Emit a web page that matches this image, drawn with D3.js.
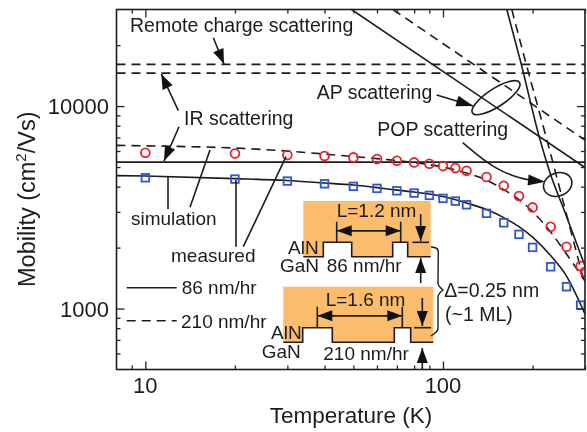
<!DOCTYPE html>
<html>
<head>
<meta charset="utf-8">
<script src="https://cdn.jsdelivr.net/npm/d3@7"></script>
<style>
  html, body { margin: 0; padding: 0; background: #fff; }
  svg { display: block; filter: blur(0.35px); }
  text { font-family: "Liberation Sans", Arial, sans-serif; fill: #1c1c1c; }
  .axis path { display: none; }
  .axis line { stroke: #222; stroke-width: 1.3; }
</style>
</head>
<body>
<svg width="587" height="432"></svg>
<script>
// measured points
const measuredT = [10, 20, 30, 40, 50, 60, 70, 80, 90, 100, 110, 120, 140, 160, 180, 200, 230, 260, 290]
const measured86 = [4425, 4360, 4262, 4133, 4013, 3923, 3816, 3719, 3622, 3501, 3395, 3255, 2953, 2653, 2325, 2005, 1608, 1282, 1040]
const measured210T = [10, 20, 30, 40, 50, 60, 70, 80, 90, 100, 110, 120, 140, 160, 180, 200, 230, 260, 290, 300]
const measured210 = [5881, 5828, 5728, 5664, 5580, 5473, 5369, 5272, 5189, 5054, 4940, 4791, 4461, 4040, 3594, 3160, 2535, 2019, 1621, 1519]

// simulation curves
const simT = [8, 10, 20, 30, 40, 50, 60, 70, 80, 100, 120, 140, 160, 180, 200, 230, 260, 300]
const sim86 = [4537, 4512, 4385, 4287, 4167, 4073, 3958, 3847, 3761, 3574, 3319, 3082, 2814, 2540, 2255, 1827, 1447, 939]
const sim210 = [6397, 6361, 6204, 5995, 5794, 5631, 5504, 5381, 5260, 4997, 4669, 4312, 3869, 3454, 3013, 2386, 1858, 1367]

// scattering limits
const flatT = [8, 300]
const remote86 = [14552, 14552]
const remote210 = [16066, 16066]
const ir86 = [5290, 5290]
const ap86T = [49.3, 300]
const ap86 = [30000, 4970]
const ap210T = [67.9, 300]
const ap210 = [30000, 6795]
const pop86T = [163.8, 181.7, 212, 229, 257.5, 300]
const pop86 = [30000, 16877, 6795, 4669, 2963, 1621]
const pop210T = [170.3, 188.8, 223.5, 257.5, 300]
const pop210 = [30000, 16877, 6795, 3082, 1306]

const xMajor = [10, 100]
const xMinor = [9, 20, 30, 40, 50, 60, 70, 80, 90, 200, 300]
const yMajor = [1000, 10000]
const yMinor = [600, 700, 800, 900, 2000, 3000, 4000, 5000, 6000, 7000, 8000, 9000, 20000]

const ink = '#1c1c1c'
const svg = d3.select('svg')
const margin = {left: 116.5, right: 585, top: 9.5, bottom: 369.5}

const x = d3.scaleLog().domain([8, 300]).range([margin.left, margin.right])
const y = d3.scaleLog().domain([500, 30000]).range([margin.bottom, margin.top])

svg.append('defs').append('clipPath').attr('id', 'plot')
  .append('rect')
  .attr('x', margin.left).attr('y', margin.top)
  .attr('width', margin.right - margin.left).attr('height', margin.bottom - margin.top)

// insets go underneath the curves
const insets = svg.append('g')
const plot = svg.append('g').attr('clip-path', 'url(#plot)')
const notes = svg.append('g')

function addLine (xs, ys, dashed, curved) {
  const line = d3.line()
    .x(d => x(d[0]))
    .y(d => y(d[1]))
    .curve(curved ? d3.curveMonotoneX : d3.curveLinear)
  plot.append('path')
    .attr('d', line(d3.zip(xs, ys)))
    .attr('fill', 'none')
    .attr('stroke', ink)
    .attr('stroke-width', 1.6)
    .attr('stroke-dasharray', dashed ? '9,6' : null)
}

addLine(flatT, remote86, true)
addLine(flatT, remote210, true)
addLine(flatT, ir86, false)
addLine(ap86T, ap86, false)
addLine(ap210T, ap210, true)
addLine(pop86T, pop86, false, true)
addLine(pop210T, pop210, true, true)
addLine(simT, sim86, false, true)
addLine(simT, sim210, true, true)

plot.selectAll('.red')
  .data(d3.zip(measured210T, measured210))
  .enter()
  .append('circle')
  .attr('class', 'red')
  .attr('cx', d => x(d[0]))
  .attr('cy', d => y(d[1]))
  .attr('r', 4.4)
  .attr('fill', 'none')
  .attr('stroke', '#e8232a')
  .attr('stroke-width', 1.8)

plot.selectAll('.blue')
  .data(d3.zip(measuredT, measured86))
  .enter()
  .append('rect')
  .attr('class', 'blue')
  .attr('x', d => x(d[0]) - 3.8)
  .attr('y', d => y(d[1]) - 3.8)
  .attr('width', 7.6)
  .attr('height', 7.6)
  .attr('fill', 'none')
  .attr('stroke', '#2f55d4')
  .attr('stroke-width', 1.8)

// frame and ticks
svg.append('rect')
  .attr('x', margin.left).attr('y', margin.top)
  .attr('width', margin.right - margin.left).attr('height', margin.bottom - margin.top)
  .attr('fill', 'none')
  .attr('stroke', ink)
  .attr('stroke-width', 1.6)

function addAxis (maker, scale, values, size, tx, ty) {
  svg.append('g')
    .attr('class', 'axis')
    .attr('transform', 'translate(' + tx + ',' + ty + ')')
    .call(maker(scale).tickValues(values).tickSize(-size).tickFormat(''))
}

addAxis(d3.axisBottom, x, xMajor, 8, 0, margin.bottom)
addAxis(d3.axisBottom, x, xMinor, 4, 0, margin.bottom)
addAxis(d3.axisTop, x, xMajor, 8, 0, margin.top)
addAxis(d3.axisTop, x, xMinor, 4, 0, margin.top)
addAxis(d3.axisLeft, y, yMajor, 8, margin.left, 0)
addAxis(d3.axisLeft, y, yMinor, 4, margin.left, 0)
addAxis(d3.axisRight, y, yMajor, 8, margin.right, 0)
addAxis(d3.axisRight, y, yMinor, 4, margin.right, 0)

function addText (parent, str, px, py, size, anchor) {
  return parent.append('text')
    .attr('x', px)
    .attr('y', py)
    .attr('font-size', size)
    .attr('text-anchor', anchor || 'start')
    .text(str)
}

yMajor.forEach(v => addText(svg, d3.format('d')(v), 109, y(v) + 8, 22, 'end'))
xMajor.forEach(v => addText(svg, String(v), x(v), 392.5, 22, 'middle'))
addText(svg, 'Temperature (K)', 351, 423, 22.5, 'middle')

const yTitle = addText(svg, 'Mobility (cm', 0, 0, 23.5)
  .attr('transform', 'translate(35,287) rotate(-90)')
yTitle.append('tspan').attr('dy', -9).attr('font-size', 15).text('2')
yTitle.append('tspan').attr('dy', 9).text('/Vs)')

function addSeg (parent, x1, y1, x2, y2, dash) {
  parent.append('line')
    .attr('x1', x1).attr('y1', y1).attr('x2', x2).attr('y2', y2)
    .attr('stroke', ink)
    .attr('stroke-width', 1.6)
    .attr('stroke-dasharray', dash || null)
}

function addHead (parent, fromX, fromY, tipX, tipY, len, half) {
  const a = Math.atan2(tipY - fromY, tipX - fromX)
  const bx = tipX - len * Math.cos(a)
  const by = tipY - len * Math.sin(a)
  const nx = -Math.sin(a) * half
  const ny = Math.cos(a) * half
  parent.append('polygon')
    .attr('points', [[tipX, tipY], [bx + nx, by + ny], [bx - nx, by - ny]].join(' '))
    .attr('fill', '#111')
}

function addArrow (parent, x1, y1, x2, y2, len, half) {
  addSeg(parent, x1, y1, x2, y2)
  addHead(parent, x1, y1, x2, y2, len || 15, half || 5.5)
}

// labels and leaders on the plot
addText(notes, 'Remote charge scattering', 130, 32, 19.5)
addArrow(notes, 213.3, 37.7, 224, 64)
addText(notes, 'IR scattering', 184, 125, 19.5)
addArrow(notes, 178.3, 110.7, 161.3, 74)
addArrow(notes, 179, 126.7, 164, 161)

addText(notes, 'simulation', 131, 225, 19)
addSeg(notes, 168, 177, 168, 209)
addSeg(notes, 210, 150, 190, 207.3)
addText(notes, 'measured', 171, 261.7, 19)
addSeg(notes, 236, 180, 236, 246.7)
addSeg(notes, 286, 156.7, 243.3, 246.7)

addSeg(notes, 126.7, 287.7, 176.7, 287.7)
addText(notes, '86 nm/hr', 181.7, 294, 19)
addSeg(notes, 126.7, 320.7, 176.7, 320.7, '9,6')
addText(notes, '210 nm/hr', 181, 328, 19)

addText(notes, 'AP scattering', 316.7, 99.3, 19.5)
addArrow(notes, 436.7, 95, 473.3, 106, 17, 5.5)
notes.append('ellipse')
  .attr('rx', 28).attr('ry', 9)
  .attr('transform', 'translate(496,97.7) rotate(-33)')
  .attr('fill', 'none').attr('stroke', ink).attr('stroke-width', 1.6)

addText(notes, 'POP scattering', 377.3, 136, 19.5)
notes.append('path')
  .attr('d', 'M462.7,142.7 C480,157 498,175 532,180.5')
  .attr('fill', 'none').attr('stroke', ink).attr('stroke-width', 1.6)
addHead(notes, 528, 180, 545, 181.7, 17, 5.5)
notes.append('ellipse')
  .attr('rx', 14.5).attr('ry', 11.5)
  .attr('transform', 'translate(557.7,184.5) rotate(-20)')
  .attr('fill', 'none').attr('stroke', ink).attr('stroke-width', 1.6)

// growth-rate insets
function addInset (box, steps, marks, barY) {
  insets.append('rect')
    .attr('x', box.x0).attr('y', box.y0)
    .attr('width', box.x1 - box.x0).attr('height', box.y1 - box.y0)
    .attr('fill', '#fbbd6c')
  const top = box.y1 - box.h
  steps.forEach(s => {
    insets.append('rect')
      .attr('x', s[0]).attr('y', top)
      .attr('width', s[1] - s[0]).attr('height', box.h + 1)
      .attr('fill', '#fff')
  })
  const pts = [[box.x0, box.y1]]
  steps.forEach(s => pts.push([s[0], box.y1], [s[0], top], [s[1], top], [s[1], box.y1]))
  pts.push([box.x1, box.y1])
  insets.append('path')
    .attr('d', d3.line()(pts))
    .attr('fill', 'none').attr('stroke', ink).attr('stroke-width', 1.6)
  marks.forEach(m => addSeg(insets, m, barY - 9, m, top))
  addArrow(insets, marks[0] + 14, barY, marks[1], barY, 15, 5.5)
  addArrow(insets, marks[1] - 14, barY, marks[0], barY, 15, 5.5)
  addSeg(insets, box.capX0, top, box.capX1, top)
}

addInset({x0: 303.3, x1: 430.7, y0: 201, y1: 256.7, h: 14.4, capX0: 412.3, capX1: 429},
  [[323.3, 351.7], [392.7, 407.7]], [336.7, 400.7], 230.7)
addInset({x0: 283.3, x1: 433.3, y0: 286.7, y1: 342.3, h: 14.6, capX0: 414, capX1: 431},
  [[302.7, 332.3], [394.3, 410.7]], [317.3, 402.3], 315.7)

addText(notes, 'AlN', 288, 254, 19)
addText(notes, 'GaN', 280, 271.7, 19)
addText(notes, '86 nm/hr', 326.7, 271.7, 19)
addText(notes, 'L=1.2 nm', 336.7, 217.3, 19)
addArrow(notes, 420.7, 214, 420.7, 241, 15, 5.5)
addArrow(notes, 420.7, 283, 420.7, 258, 15, 5.5)

addText(notes, 'AlN', 271, 339.3, 19)
addText(notes, 'GaN', 261.7, 358.3, 19)
addText(notes, '210 nm/hr', 323.3, 360, 19)
addText(notes, 'L=1.6 nm', 325.7, 306, 19)
addArrow(notes, 422.3, 298, 422.3, 326, 15, 5.5)
addArrow(notes, 422.3, 369, 422.3, 348, 15, 5.5)

notes.append('path')
  .attr('d', 'M431,246.7 L436,248 Q438.3,249 438.3,252 L438,283 Q438,286 443,290 Q438,294 438,297 L438,328 Q438,331 435,333 L431,336')
  .attr('fill', 'none').attr('stroke', ink).attr('stroke-width', 1.4)

addText(notes, 'Δ=0.25 nm', 444.3, 296.7, 19.5)
addText(notes, '(~1 ML)', 445, 321, 19.5)
</script>
</body>
</html>
